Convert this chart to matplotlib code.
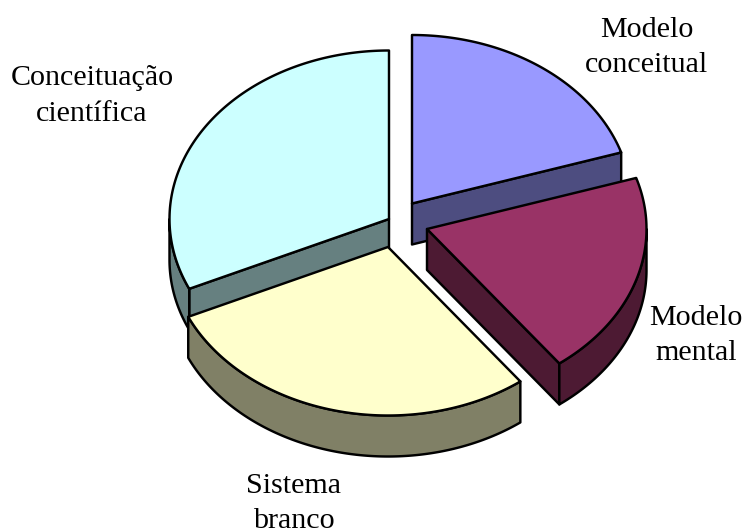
import numpy as np
import matplotlib
matplotlib.use("Agg")
import matplotlib.pyplot as plt
from matplotlib.patches import Polygon

categories = ["Modelo\nconceitual", "Modelo\nmental", "Sistema\nbranco", "Conceituação\ncientífica"]
values = [20.1, 19.6, 28.5, 31.8]
top_colors = ["#9999FF", "#993366", "#FFFFCC", "#CCFFFF"]
side_colors = ["#4D4D80", "#4D1A33", "#808066", "#668080"]
apex_x = [412, 427, 388, 389]
apex_y = [203.5, 229, 247, 219]
label_x = [647, 696, 294, 92]
label_y = [47.5, 335.5, 503.5, 96]
draw_order = [0, 3, 1, 2]

RX, RY, DEPTH = 219.5, 168.5, 41

plt.rcParams["font.family"] = ["Liberation Serif", "DejaVu Serif"]
fig = plt.figure(figsize=(7.45, 5.31), dpi=100)
ax = fig.add_axes([0, 0, 1, 1])
ax.set_xlim(0, 745)
ax.set_ylim(531, 0)
ax.axis("off")

ends = np.cumsum(values) / np.sum(values) * 360
starts = np.concatenate([[0], ends[:-1]])


def rim(cx, cy, a0, a1, dy=0):
    t = np.radians(np.linspace(a0, a1, max(int(abs(a1 - a0)) * 2, 2)))
    return np.column_stack([cx + RX * np.sin(t), cy - RY * np.cos(t) + dy])


def add(pts, color):
    ax.add_patch(Polygon(pts, closed=True, facecolor=color, edgecolor="black",
                         linewidth=1.75, joinstyle="round"))


def cut_face(cx, cy, a, color):
    p = rim(cx, cy, a, a)[0]
    add([(cx, cy), p, (p[0], p[1] + DEPTH), (cx, cy + DEPTH)], color)


for i in draw_order:
    a0, a1, cx, cy = starts[i], ends[i], apex_x[i], apex_y[i]
    if np.sin(np.radians(a0)) < -1e-6:
        cut_face(cx, cy, a0, side_colors[i])
    if np.sin(np.radians(a1)) > 1e-6:
        cut_face(cx, cy, a1, side_colors[i])
    w0, w1 = max(a0, 90), min(a1, 270)
    if w1 > w0:
        upper = rim(cx, cy, w0, w1)
        lower = rim(cx, cy, w1, w0, DEPTH)
        add(np.vstack([upper, lower]), side_colors[i])
    add(np.vstack([[(cx, cy)], rim(cx, cy, a0, a1)]), top_colors[i])

for name, x, y in zip(categories, label_x, label_y):
    ax.text(x, y, name, ha="center", va="center", fontsize=21.6, linespacing=1.47, color="black")

fig.savefig("out.png", dpi=100)
